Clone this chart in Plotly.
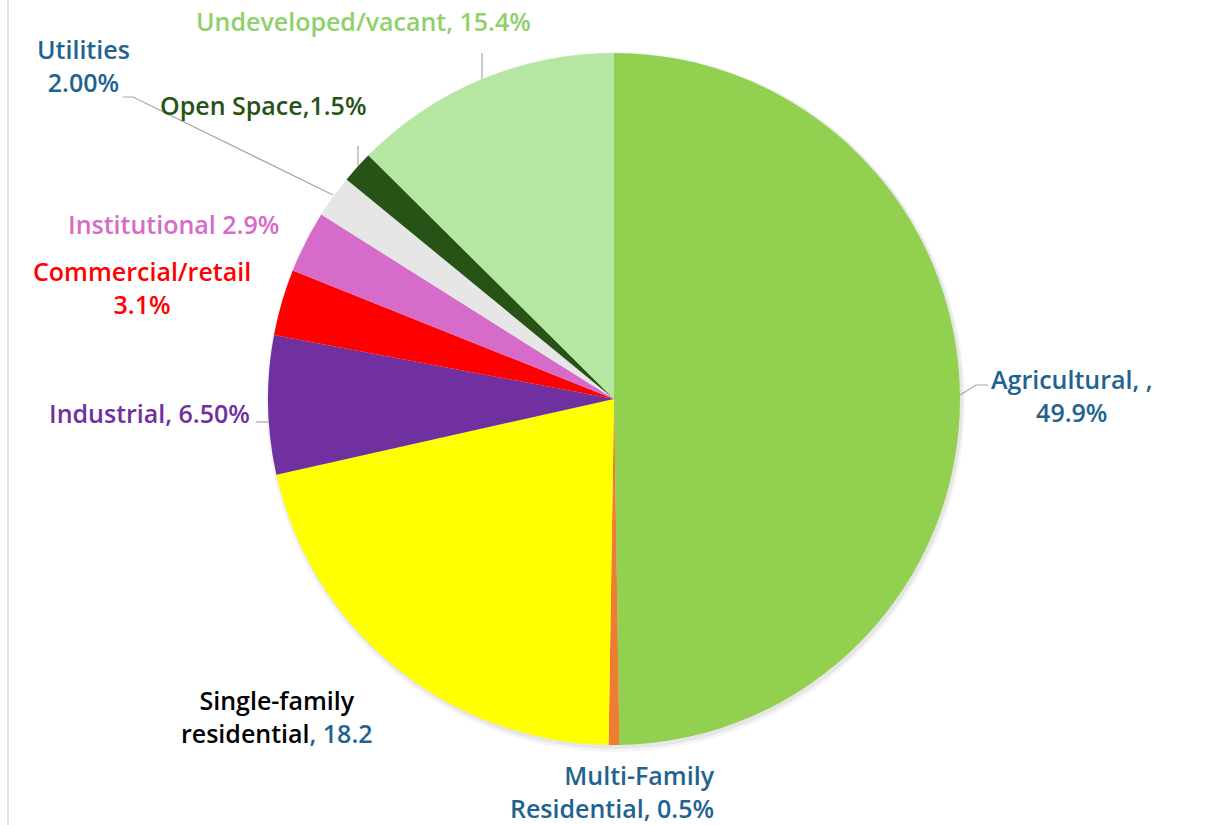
import plotly.graph_objects as go

# Доли землепользования, по часовой стрелке от 12 часов
LAND_USES = [
    "Agricultural",
    "Multi-Family Residential",
    "Single-family residential",
    "Industrial",
    "Commercial/retail",
    "Institutional",
    "Utilities",
    "Open Space",
    "Undeveloped/vacant",
]
# размеры секторов (подписи на исходнике местами расходятся с ними)
SHARES = [49.9, 0.5, 21.3, 6.5, 3.1, 2.9, 2.0, 1.5, 12.6]
SLICE_COLORS = [
    "#92D050", "#ED7D31", "#FFFF00", "#7030A0", "#FF0000",
    "#D66BC9", "#E7E6E6", "#275317", "#B5E6A2",
]
LABEL_TEXTS = [
    "Agricultural, ,<br>49.9%",
    "Multi-Family<br>Residential, 0.5%",
    "Single-family<br>residential<span style='color:#1F6391'>, 18.2</span>",
    "Industrial, 6.50%",
    "Commercial/retail<br>3.1%",
    "Institutional 2.9%",
    "Utilities<br>2.00%",
    "Open Space,1.5%",
    "Undeveloped/vacant, 15.4%",
]
LABEL_COLORS = [
    "#1F6391", "#1F6391", "#000000", "#7030A0", "#FF0000",
    "#D66BC9", "#1F6391", "#275317", "#8FD16A",
]

W, H = 1211, 825
CX, CY, R = 614, 399, 346

# Подписи: опорная точка (px) и выравнивание; выноски — ломаные в px
LABEL_POS = [
    (1072, 395, "center"), (717, 791, "right"), (277, 716, "center"),
    (149, 413, "center"), (142, 287, "center"), (174, 224, "center"),
    (83, 66, "center"), (263, 105, "center"), (363, 21, "center"),
]
LEADERS = [
    [(960, 395), (976, 385), (988, 385)],
    None,
    None,
    [(256, 422), (269, 422)],
    None,
    None,
    [(123, 97), (133, 97), (333, 195)],
    [(358, 146), (358, 166)],
    [(482, 53), (482, 79)],
]


def px(x):
    return x / W


def py(y):
    return 1 - y / H


fig = go.Figure()
fig.add_pie(
    labels=LAND_USES,
    values=SHARES,
    sort=False,
    direction="clockwise",
    rotation=0,
    textinfo="none",
    hoverinfo="label+percent",
    marker=dict(colors=SLICE_COLORS, line=dict(width=0)),
    domain=dict(x=[px(CX - R), px(CX + R)], y=[py(CY + R), py(CY - R)]),
    showlegend=False,
)

shapes = [
    # лёгкая тень под кругом
    dict(type="circle", xref="paper", yref="paper", layer="below",
         x0=px(CX - R - 2), x1=px(CX + R + 5), y0=py(CY + R + 7), y1=py(CY - R - 1),
         fillcolor="rgba(0,0,0,0.04)", line_width=0),
    dict(type="circle", xref="paper", yref="paper", layer="below",
         x0=px(CX - R), x1=px(CX + R + 3), y0=py(CY + R + 4), y1=py(CY - R),
         fillcolor="rgba(0,0,0,0.06)", line_width=0),
    # левая граница области диаграммы
    dict(type="line", xref="paper", yref="paper", x0=px(8), x1=px(8), y0=0, y1=1,
         line=dict(color="#D9D9D9", width=1.5)),
]
for pts in LEADERS:
    if not pts:
        continue
    path = "M " + " L ".join(f"{px(x)},{py(y)}" for x, y in pts)
    shapes.append(dict(type="path", xref="paper", yref="paper", path=path,
                       line=dict(color="#A6A6A6", width=1.2)))

annotations = [
    dict(text=txt, x=px(x), y=py(y), xref="paper", yref="paper",
         xanchor=anchor, yanchor="middle", showarrow=False, align=anchor,
         font=dict(color=col, size=25, weight=600))
    for txt, col, (x, y, anchor) in zip(LABEL_TEXTS, LABEL_COLORS, LABEL_POS)
]

fig.update_layout(
    width=W,
    height=H,
    margin=dict(l=0, r=0, t=0, b=0),
    paper_bgcolor="white",
    font=dict(family="Open Sans, Roboto, sans-serif"),
    shapes=shapes,
    annotations=annotations,
)
fig.write_html(
    "out.html",
    config={"displayModeBar": False},
    post_script="document.body.style.margin='0';",
)
